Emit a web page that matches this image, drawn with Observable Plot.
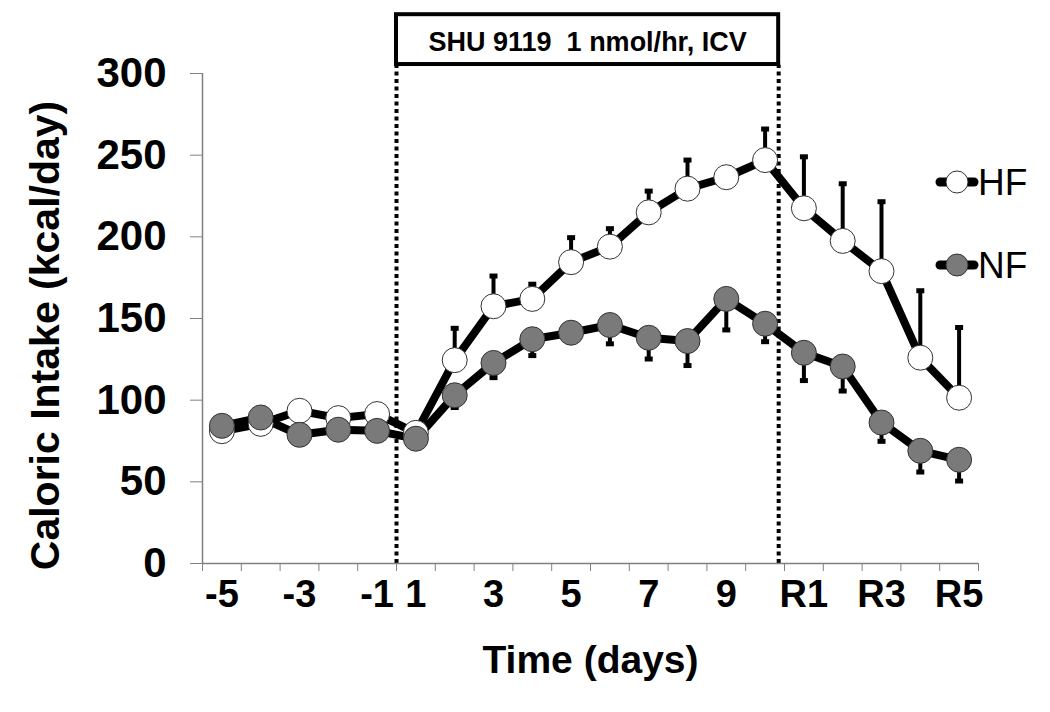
<!DOCTYPE html>
<html>
<head>
<meta charset="utf-8">
<script src="https://cdn.jsdelivr.net/npm/d3@7"></script>
<script src="https://cdn.jsdelivr.net/npm/@observablehq/plot@0.6"></script>
<style>
  html, body { margin: 0; padding: 0; background: white; }
  #chart svg { display: block; }
</style>
</head>
<body>
<div id="chart"></div>
<script>
// ---- data ----
const categories = ["-5","-4","-3","-2","-1","1","2","3","4","5","6","7","8","9","10","R1","R2","R3","R4","R5"];
const hfMean = [81, 85.5, 93.5, 89, 91.5, 80, 124.5, 157.5, 162, 184.5, 194, 215, 229.5, 236.5, 247, 217.5, 197.5, 179, 126, 101.5];
const hfErr  = [0, 0, 0, 0, 0, 0, 19.5, 18.5, 9, 15, 11, 13, 17.5, 3, 19, 31.5, 35, 42.5, 41, 43];
const nfMean = [84.3, 89.4, 78.8, 81.9, 81.2, 76.4, 103, 122.8, 137.3, 141.3, 146, 138.2, 136.2, 162, 146.8, 129, 120.6, 86.3, 69, 63.5];
const nfErr  = [0, 0, 0, 0, 0, 0, 7.5, 9, 10, 4, 11.5, 13, 15, 19, 11, 17, 15, 11.5, 13, 13];
const yTicks = [0, 50, 100, 150, 200, 250, 300];
const xLabelCats = ["-5","-3","-1","1","3","5","7","9","R1","R3","R5"];
const seriesNames = ["HF", "NF"];
const treatmentLabel = "SHU 9119\u00a0 1 nmol/hr, ICV";
const treatmentBounds = [4.5, 14.35]; // in category-index units
const yTitle = "Caloric Intake (kcal/day)";
const xTitle = "Time (days)";

// ---- table ----
const rows = categories.map((c, i) => ({
  i, cat: c, hf: hfMean[i], hfErr: hfErr[i], nf: nfMean[i], nfErr: nfErr[i]
}));

const capSymbol = { draw(ctx) { ctx.rect(-4, -2.5, 8, 5); } };
const fills = { HF: "white", NF: "#7a7a7a" };
const font = "'Liberation Sans', Arial, Helvetica, sans-serif";

const legend = (index, scales, values, dims) => {
  const g = d3.create("svg:g");
  const xr = dims.width - dims.marginRight;
  const ys = [182, 265];
  seriesNames.forEach((name, k) => {
    const cy = ys[k];
    g.append("line").attr("x1", xr - 38).attr("x2", xr - 4).attr("y1", cy).attr("y2", cy)
      .attr("stroke", "black").attr("stroke-width", 9).attr("stroke-linecap", "round");
    g.append("circle").attr("cx", xr - 21).attr("cy", cy).attr("r", 11)
      .attr("fill", fills[name]).attr("stroke", "#333").attr("stroke-width", 1);
    g.append("text").attr("x", xr).attr("y", cy + 13).attr("font-size", 37)
      .attr("text-anchor", "start")
      .attr("font-family", font).attr("fill", "black").text(name);
  });
  return g.node();
};

const chart = Plot.plot({
  width: 1050,
  height: 712,
  marginLeft: 202,
  marginRight: 72,
  marginTop: 73,
  marginBottom: 149,
  x: { type: "linear", domain: [-0.5, categories.length - 0.5] },
  y: { domain: [0, 300] },
  style: { fontFamily: font, background: "white", color: "black", overflow: "visible" },
  marks: [
    // treatment window dotted lines and box
    Plot.ruleX(treatmentBounds, { y1: 0, y2: 305, stroke: "black", strokeWidth: 4, strokeDasharray: "4,3.5" }),
    Plot.rect([treatmentLabel], { x1: treatmentBounds[0], x2: treatmentBounds[1], y1: 305.5, y2: 336,
      fill: "white", stroke: "black", strokeWidth: 4 }),
    Plot.text([treatmentLabel], { x: (treatmentBounds[0] + treatmentBounds[1]) / 2, y: 320.7, dy: 3,
      fontSize: 27, fontWeight: "bold", fill: "black" }),
    // axes
    Plot.ruleX([-0.5], { stroke: "#808080", strokeWidth: 1.5 }),
    Plot.ruleY([0], { stroke: "#808080", strokeWidth: 1.5 }),
    Plot.axisY({ ticks: yTicks, tickSize: 12, tickPadding: 24, fontSize: 42, fontWeight: "bold",
      stroke: "#808080", fill: "black", label: null }),
    Plot.axisX({ ticks: d3.range(categories.length + 1).map(k => k - 0.5), tickSize: 8,
      tickFormat: () => "", stroke: "#808080", label: null }),
    Plot.axisX({ ticks: xLabelCats.map(c => categories.indexOf(c)), tickFormat: k => categories[k],
      tickSize: 0, tickPadding: 17, fontSize: 38, fontWeight: "bold", fill: "black", label: null }),
    Plot.text([yTitle], { frameAnchor: "left", textAnchor: "middle", dx: -157, dy: 17, rotate: -90, fontSize: 41,
      fontWeight: "bold", fill: "black" }),
    Plot.text([xTitle], { frameAnchor: "bottom", dy: 109, lineAnchor: "bottom", fontSize: 39,
      fontWeight: "bold", fill: "black" }),
    // error bars
    Plot.ruleX(rows, { x: "i", y1: "hf", y2: d => d.hf + d.hfErr, stroke: "black", strokeWidth: 4 }),
    Plot.dot(rows, { x: "i", y: d => d.hf + d.hfErr, symbol: capSymbol, fill: "black", stroke: null }),
    Plot.ruleX(rows, { x: "i", y1: "nf", y2: d => d.nf - d.nfErr, stroke: "black", strokeWidth: 4 }),
    Plot.dot(rows, { x: "i", y: d => d.nf - d.nfErr, symbol: capSymbol, fill: "black", stroke: null }),
    // lines
    Plot.line(rows, { x: "i", y: "hf", stroke: "black", strokeWidth: 8 }),
    Plot.line(rows, { x: "i", y: "nf", stroke: "black", strokeWidth: 8 }),
    // points
    Plot.dot(rows, { x: "i", y: "hf", r: 12.5, fill: fills.HF, stroke: "#333", strokeWidth: 1 }),
    Plot.dot(rows, { x: "i", y: "nf", r: 12.5, fill: fills.NF, stroke: "#333", strokeWidth: 1 }),
    legend
  ]
});
document.getElementById("chart").appendChild(chart);
</script>
</body>
</html>
